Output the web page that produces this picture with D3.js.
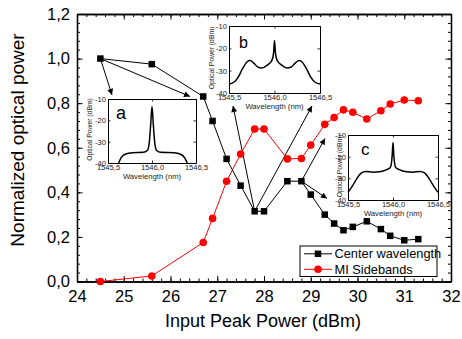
<!DOCTYPE html>
<html>
<head>
<meta charset="utf-8">
<script src="https://cdn.jsdelivr.net/npm/d3@7/dist/d3.min.js"></script>
<style>
  html, body { margin: 0; padding: 0; background: #fff; }
  svg { display: block; font-family: "Liberation Sans", Arial, sans-serif; }
</style>
</head>
<body>
<svg id="chart" width="462" height="339"></svg>
<script>
// ---------------- DATA ----------------
const powerX   = [24.5, 25.6, 26.7, 26.9, 27.2, 27.5, 27.8, 28.0, 28.5, 28.8, 29.0, 29.3, 29.5, 29.7, 29.9, 30.2, 30.5, 30.7, 31.0, 31.3];
const centerY  = [1.0, 0.975, 0.83, 0.72, 0.55, 0.43, 0.315, 0.315, 0.45, 0.45, 0.39, 0.30, 0.26, 0.23, 0.245, 0.27, 0.235, 0.205, 0.185, 0.19];
const sideY    = [0.0, 0.025, 0.175, 0.283, 0.45, 0.572, 0.684, 0.684, 0.55, 0.552, 0.612, 0.705, 0.736, 0.77, 0.759, 0.729, 0.766, 0.796, 0.814, 0.811];
const seriesNames = ["Center wavelength", "MI Sidebands"];
const xTicks = [24, 25, 26, 27, 28, 29, 30, 31, 32];
const yTicks = [0, 0.2, 0.4, 0.6, 0.8, 1.0, 1.2];

// inset spectra (wavelength nm, optical power dBm)
const specA_wl = [1545.62, 1545.65, 1545.70, 1545.78, 1545.90, 1545.95, 1545.97, 1545.985, 1546.0, 1546.015, 1546.03, 1546.05, 1546.10, 1546.25, 1546.32, 1546.37, 1546.40];
const specA_p  = [-40, -37.5, -35.8, -35.2, -35, -34, -30, -22, -13.5, -22, -30, -34, -35, -35.2, -35.8, -37.5, -40];
const specB_wl = [1545.5, 1545.55, 1545.6, 1545.65, 1545.7, 1545.73, 1545.77, 1545.82, 1545.86, 1545.92, 1545.97, 1545.99, 1546.0, 1546.01, 1546.03, 1546.08, 1546.14, 1546.18, 1546.23, 1546.27, 1546.3, 1546.35, 1546.4, 1546.45, 1546.5];
const specB_p  = [-36, -35.3, -33, -29, -26, -25.5, -26.5, -28.5, -28.8, -27.5, -25.5, -22, -16.5, -22, -25.5, -27.5, -28.8, -28.5, -26.5, -25.5, -26, -29, -33, -35.3, -36];
const specC_wl = [1545.5, 1545.55, 1545.6, 1545.65, 1545.7, 1545.78, 1545.85, 1545.93, 1545.97, 1545.99, 1546.0, 1546.01, 1546.03, 1546.07, 1546.15, 1546.22, 1546.3, 1546.35, 1546.4, 1546.45, 1546.5];
const specC_p  = [-36.5, -33.5, -30, -27.5, -26.8, -27.2, -27, -26, -25, -20, -13.5, -20, -25, -26, -27, -27.2, -26.8, -27.5, -30, -33.5, -36.5];
const insetXTicks = [1545.5, 1546.0, 1546.5];
const insetYTicks = [-10, -20, -30, -40];
const insetLetters = ["a", "b", "c"];

// ---------------- LAYOUT ----------------
const svg = d3.select("#chart");
const L = 77, R = 451, T = 14, B = 281.5;
const x = d3.scaleLinear().domain([24, 32]).range([L, R]);
const y = d3.scaleLinear().domain([0, 1.2]).range([B, T]);
const comma1 = v => v.toFixed(1).replace(".", ",");
const intFmt = v => String(Math.round(v));

// axes group
const ax = svg.append("g");
const xMinor = d3.range(24, 32.001, 0.2);
const yMinor = d3.range(0, 1.2001, 0.04);
ax.append("g").attr("transform", `translate(0,${B})`)
  .call(d3.axisBottom(x).tickValues(xMinor).tickSizeInner(-3).tickSizeOuter(0).tickFormat(""));
ax.append("g").attr("transform", `translate(0,${T})`)
  .call(d3.axisTop(x).tickValues(xMinor).tickSizeInner(-3).tickSizeOuter(0).tickFormat(""));
ax.append("g").attr("transform", `translate(${L},0)`)
  .call(d3.axisLeft(y).tickValues(yMinor).tickSizeInner(-3).tickSizeOuter(0).tickFormat(""));
ax.append("g").attr("transform", `translate(${R},0)`)
  .call(d3.axisRight(y).tickValues(yMinor).tickSizeInner(-3).tickSizeOuter(0).tickFormat(""));
ax.append("g").attr("transform", `translate(0,${B})`)
  .call(d3.axisBottom(x).tickValues(xTicks).tickSizeInner(-5.5).tickSizeOuter(0).tickPadding(9).tickFormat(d3.format("d")));
ax.append("g").attr("transform", `translate(0,${T})`)
  .call(d3.axisTop(x).tickValues(xTicks).tickSizeInner(-5.5).tickSizeOuter(0).tickFormat(""));
ax.append("g").attr("transform", `translate(${L},0)`)
  .call(d3.axisLeft(y).tickValues(yTicks).tickSizeInner(-5.5).tickSizeOuter(0).tickPadding(7).tickFormat(comma1));
ax.append("g").attr("transform", `translate(${R},0)`)
  .call(d3.axisRight(y).tickValues(yTicks).tickSizeInner(-5.5).tickSizeOuter(0).tickFormat(""));
ax.selectAll("path.domain").attr("stroke", "#000").attr("stroke-width", 1.3);
ax.selectAll(".tick line").attr("stroke", "#000").attr("stroke-width", 1);
ax.selectAll("text").attr("fill", "#000").attr("font-family", "Liberation Sans, Arial, sans-serif").attr("font-size", 16.5);

// axis titles
svg.append("text").attr("x", (L + R) / 2 - 1).attr("y", 327)
  .attr("text-anchor", "middle").attr("font-size", 18).attr("fill", "#000")
  .text("Input Peak Power (dBm)");
svg.append("text").attr("transform", `translate(24,${140}) rotate(-90)`)
  .attr("text-anchor", "middle").attr("font-size", 19).attr("fill", "#000")
  .text("Normalized optical power");

// ---------------- INSETS ----------------
const insets = [
  { box: [108, 99, 196, 163], wl: specA_wl, p: specA_p, labelDx: -16.5, labelDy: -1.5, letter: insetLetters[0], lx: 116, ly: 119, lsize: 18 },
  { box: [229, 26, 320, 93],  wl: specB_wl, p: specB_p, labelDx: -15, labelDy: -1.5, letter: insetLetters[1], lx: 239, ly: 48,  lsize: 16 },
  { box: [348, 135, 438, 200], wl: specC_wl, p: specC_p, labelDx: -6, labelDy: -1.5, letter: insetLetters[2], lx: 361, ly: 155, lsize: 17 }
];

insets.forEach(ins => {
  const [x0, y0, x1, y1] = ins.box;
  const g = svg.append("g");
  const ix = d3.scaleLinear().domain([1545.5, 1546.5]).range([x0, x1]);
  const iy = d3.scaleLinear().domain([-40, -10]).range([y1, y0]);
  g.append("rect").attr("x", x0).attr("y", y0).attr("width", x1 - x0).attr("height", y1 - y0)
    .attr("fill", "#fff").attr("stroke", "none");
  g.append("g").attr("transform", `translate(0,${y1})`)
    .call(d3.axisBottom(ix).tickValues(insetXTicks).tickSizeInner(-2.5).tickSizeOuter(0).tickPadding(1.5).tickFormat(comma1));
  g.append("g").attr("transform", `translate(${x0},0)`)
    .call(d3.axisLeft(iy).tickValues(insetYTicks).tickSizeInner(-2.5).tickSizeOuter(0).tickPadding(2).tickFormat(intFmt));
  g.append("g").attr("transform", `translate(0,${y0})`)
    .call(d3.axisTop(ix).tickValues(insetXTicks).tickSizeInner(-2.5).tickSizeOuter(0).tickFormat(""));
  g.append("g").attr("transform", `translate(${x1},0)`)
    .call(d3.axisRight(iy).tickValues(insetYTicks).tickSizeInner(-2.5).tickSizeOuter(0).tickFormat(""));
  g.selectAll("path.domain").attr("stroke", "#000").attr("stroke-width", 1);
  g.selectAll(".tick line").attr("stroke", "#000").attr("stroke-width", 0.8);
  g.selectAll("text").attr("fill", "#222").attr("font-family", "Liberation Sans, Arial, sans-serif").attr("font-size", 7.6);

  const pts = ins.wl.map((w, i) => [w, ins.p[i]]);
  g.append("path").datum(pts)
    .attr("d", d3.line().x(d => ix(d[0])).y(d => iy(d[1])).curve(d3.curveMonotoneX))
    .attr("fill", "none").attr("stroke", "#000").attr("stroke-width", 1.5);

  g.append("text").attr("x", (x0 + x1) / 2).attr("y", y1 + 15.8)
    .attr("text-anchor", "middle").attr("font-size", 7.7).attr("fill", "#222")
    .text("Wavelength (nm)");
  g.append("text").attr("transform", `translate(${x0 + ins.labelDx},${(y0 + y1) / 2 + ins.labelDy}) rotate(-90)`)
    .attr("text-anchor", "middle").attr("font-size", 6.8).attr("fill", "#222")
    .text("Optical Power (dBm)");
  g.append("text").attr("x", ins.lx).attr("y", ins.ly)
    .attr("font-size", ins.lsize).attr("fill", "#000").text(ins.letter);
});

// ---------------- ARROWS ----------------
svg.append("defs").append("marker")
  .attr("id", "ah").attr("viewBox", "0 0 10 10").attr("refX", 10).attr("refY", 5)
  .attr("markerWidth", 7).attr("markerHeight", 6).attr("markerUnits", "userSpaceOnUse")
  .attr("orient", "auto")
  .append("path").attr("d", "M0,0 L10,5 L0,10 z").attr("fill", "#000");

const A = insets[0].box, Bb = insets[1].box, C = insets[2].box;
const arrows = [
  { from: 0, to: [A[0] + 4, A[1] - 4] },
  { from: 0, to: [A[2] - 6, A[1] - 2.5] },
  { from: 6, to: [Bb[0] + 4, Bb[3] + 13] },
  { from: 6, to: [Bb[2] - 8, Bb[3] + 13] },
  { from: 9, to: [C[0] - 23, C[1] + 3.5] },
  { from: 9, to: [C[0] - 21, C[3] - 1.5] }
];
svg.append("g").selectAll("line").data(arrows).join("line")
  .attr("x1", d => x(powerX[d.from])).attr("y1", d => y(centerY[d.from]))
  .attr("x2", d => d.to[0]).attr("y2", d => d.to[1])
  .attr("stroke", "#000").attr("stroke-width", 1).attr("marker-end", "url(#ah)");

// ---------------- SERIES ----------------
const blackPts = powerX.map((v, i) => [v, centerY[i]]);
const redPts = powerX.map((v, i) => [v, sideY[i]]);
const line = d3.line().x(d => x(d[0])).y(d => y(d[1]));

svg.append("path").datum(redPts).attr("d", line)
  .attr("fill", "none").attr("stroke", "#ff0000").attr("stroke-width", 1);
svg.append("g").selectAll("circle").data(redPts).join("circle")
  .attr("cx", d => x(d[0])).attr("cy", d => y(d[1])).attr("r", 3.8).attr("fill", "#ff0000");

svg.append("path").datum(blackPts).attr("d", line)
  .attr("fill", "none").attr("stroke", "#000").attr("stroke-width", 1);
const sq = 6.5;
svg.append("g").selectAll("rect").data(blackPts).join("rect")
  .attr("x", d => x(d[0]) - sq / 2).attr("y", d => y(d[1]) - sq / 2)
  .attr("width", sq).attr("height", sq).attr("fill", "#000");

// ---------------- LEGEND ----------------
const lg = svg.append("g");
lg.append("rect").attr("x", 300).attr("y", 246).attr("width", 137).attr("height", 30.5)
  .attr("fill", "#fff").attr("stroke", "#000").attr("stroke-width", 1);
const rows = [
  { name: seriesNames[0], color: "#000", shape: "square", cy: 253.8 },
  { name: seriesNames[1], color: "#ff0000", shape: "circle", cy: 269.3 }
];
rows.forEach(r => {
  lg.append("line").attr("x1", 304).attr("x2", 332).attr("y1", r.cy).attr("y2", r.cy)
    .attr("stroke", r.color).attr("stroke-width", 1);
  if (r.shape === "square") {
    lg.append("rect").attr("x", 318 - sq / 2).attr("y", r.cy - sq / 2).attr("width", sq).attr("height", sq).attr("fill", r.color);
  } else {
    lg.append("circle").attr("cx", 318).attr("cy", r.cy).attr("r", 3.8).attr("fill", r.color);
  }
  lg.append("text").attr("x", 334.5).attr("y", r.cy).attr("dy", "0.36em")
    .attr("font-size", 12.8).attr("fill", "#000").text(r.name);
});
</script>
</body>
</html>
